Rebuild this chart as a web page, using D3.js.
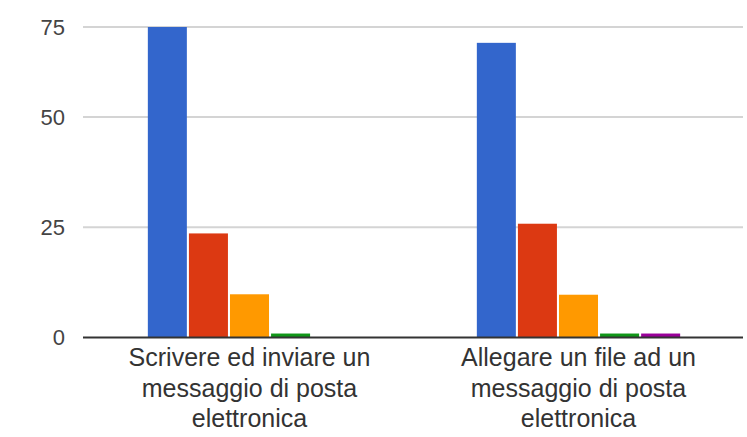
<!DOCTYPE html>
<html>
<head>
<meta charset="utf-8">
<script src="https://cdn.jsdelivr.net/npm/d3@7"></script>
<style>
  body { margin: 0; background: #fff; }
  svg { display: block; font-family: "Liberation Sans", Arial, sans-serif; }
</style>
</head>
<body>
<script>
//chart data
var categories = ["Scrivere ed inviare un messaggio di posta elettronica",
                  "Allegare un file ad un messaggio di posta elettronica"];
var categoryLines = [["Scrivere ed inviare un", "messaggio di posta", "elettronica"],
                     ["Allegare un file ad un", "messaggio di posta", "elettronica"]];
var seriesKeys = ["s1", "s2", "s3", "s4", "s5"];
var seriesColors = ["#3366cc", "#dc3912", "#ff9900", "#109618", "#990099"];
var s1 = [75, 70.6];
var s2 = [23.6, 25.8];
var s3 = [9.8, 9.7];
var s4 = [0.9, 0.9];
var s5 = [0, 0.9];
var yTicks = [0, 25, 50, 75];
var yTickLabels = ["0", "25", "50", "75"];

(function(){

var width = 747,
    height = 437;

var svg = d3.select("body")
    .append("svg")
    .attr("width", width)
    .attr("height", height);

var allSeries = [s1, s2, s3, s4, s5];

//outer band scale for the categories
var x0 = d3.scaleBand()
    .domain(categories)
    .range([85, 743])
    .padding(0);

//group takes ~61.8% of the band, like google charts
var groupW = x0.bandwidth() * 0.618;
var x1 = d3.scaleBand()
    .domain(seriesKeys)
    .range([0, groupW])
    .paddingInner(0.05)
    .paddingOuter(0);

//the axis in the picture is not evenly spaced at the top, so piecewise
var y = d3.scaleLinear()
    .domain([0, 50, 75])
    .range([337.5, 117, 27]);

//gridlines
svg.append("g")
    .selectAll("line")
    .data(yTicks.slice(1))
    .enter()
    .append("line")
    .attr("x1", 83)
    .attr("x2", 743)
    .attr("y1", function(d){ return y(d); })
    .attr("y2", function(d){ return y(d); })
    .attr("stroke", "#d4d4d4")
    .attr("stroke-width", 2);

//y labels
svg.append("g")
    .selectAll("text")
    .data(yTicks)
    .enter()
    .append("text")
    .attr("x", 65)
    .attr("y", function(d){ return y(d); })
    .attr("dy", "0.36em")
    .attr("text-anchor", "end")
    .attr("font-size", 22)
    .attr("fill", "#444")
    .text(function(d, i){ return yTickLabels[i]; });

//bars
var groups = svg.selectAll(".cat")
    .data(categories)
    .enter()
    .append("g")
    .attr("class", "cat")
    .attr("transform", function(d){
        return "translate(" + (x0(d) + (x0.bandwidth() - groupW) / 2) + ",0)";
    });

groups.selectAll("rect")
    .data(function(d, ci){
        return seriesKeys.map(function(k, si){
            return {key: k, value: allSeries[si][ci], color: seriesColors[si]};
        });
    })
    .enter()
    .filter(function(d){ return d.value > 0; })
    .append("rect")
    .attr("x", function(d){ return x1(d.key); })
    .attr("width", x1.bandwidth())
    .attr("y", function(d){ return y(d.value); })
    .attr("height", function(d){ return y(0) - y(d.value); })
    .attr("fill", function(d){ return d.color; });

//baseline
svg.append("line")
    .attr("x1", 83)
    .attr("x2", 743)
    .attr("y1", y(0))
    .attr("y2", y(0))
    .attr("stroke", "#333")
    .attr("stroke-width", 2);

//category labels
var labels = svg.append("g")
    .selectAll("text")
    .data(categories)
    .enter()
    .append("text")
    .attr("text-anchor", "middle")
    .attr("font-size", 25)
    .attr("fill", "#333");

labels.selectAll("tspan")
    .data(function(d, i){ return categoryLines[i]; })
    .enter()
    .append("tspan")
    .attr("x", function(){ return x0(d3.select(this.parentNode).datum()) + x0.bandwidth() / 2; })
    .attr("y", function(d, i){ return 366 + i * 30.5; })
    .text(function(d){ return d; });

})();
</script>
</body>
</html>
